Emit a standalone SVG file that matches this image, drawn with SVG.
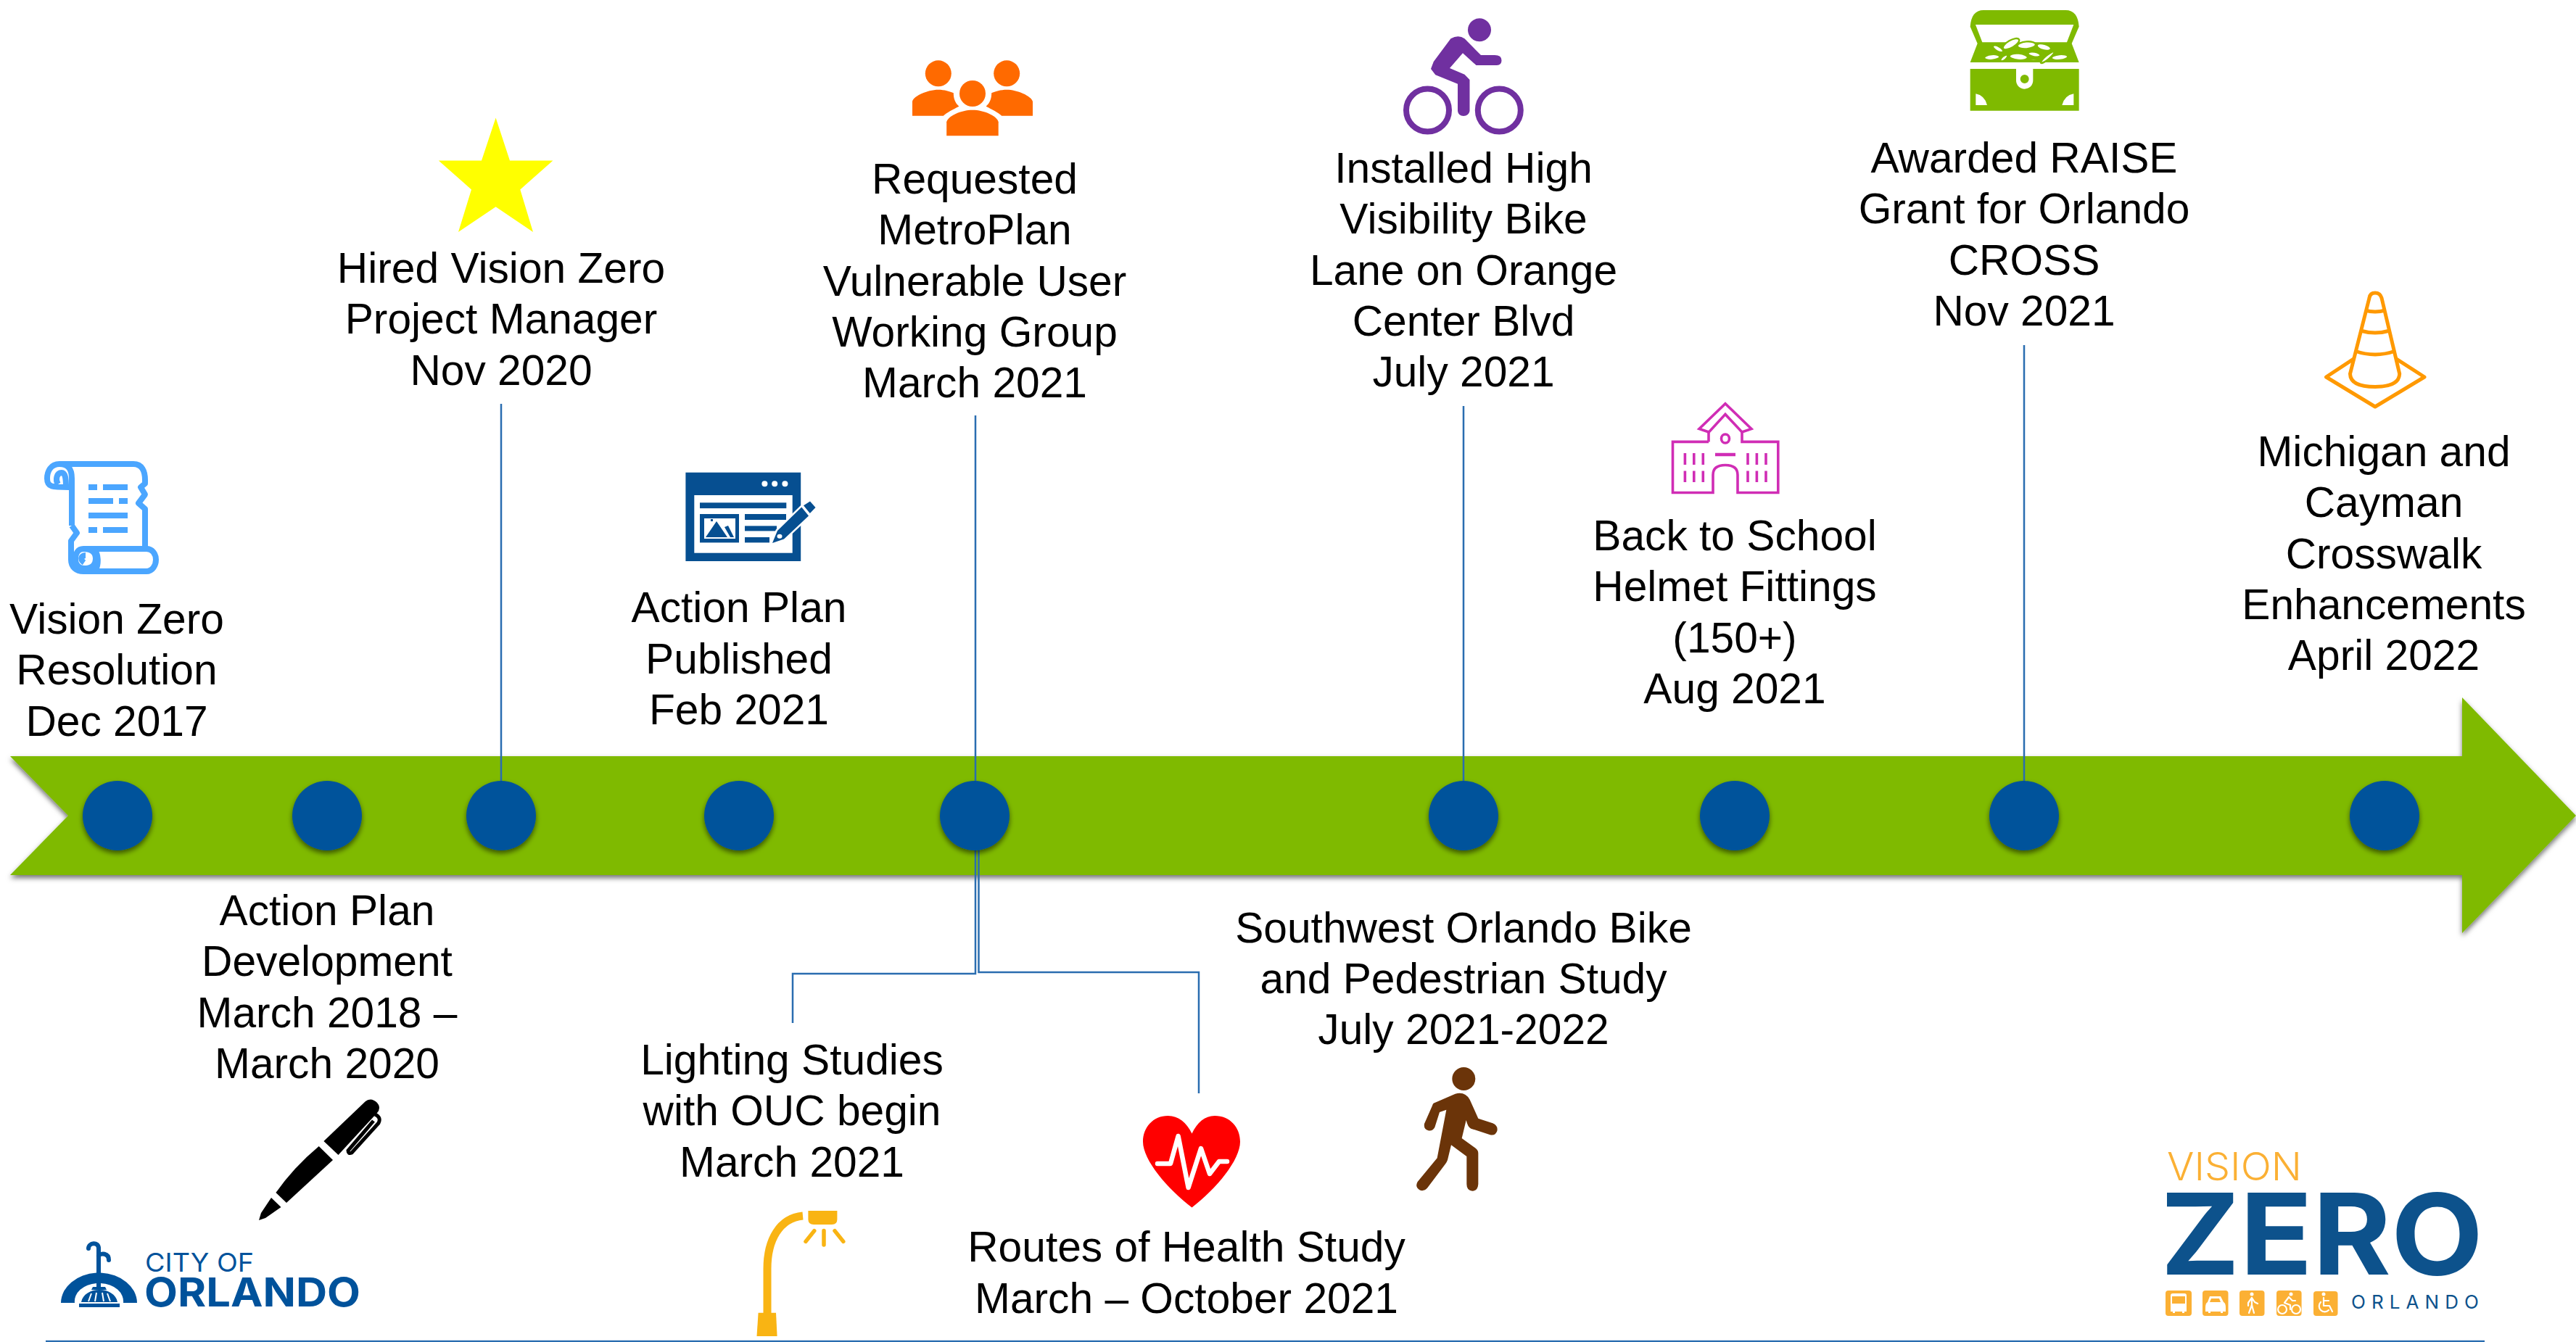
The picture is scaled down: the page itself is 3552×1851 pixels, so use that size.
<svg xmlns="http://www.w3.org/2000/svg" width="3552" height="1851" viewBox="0 0 3552 1851">
<defs>
<style>
.t{font-family:"Liberation Sans",Arial,sans-serif;font-size:58.7px;fill:#000;text-anchor:middle}
.c{fill:none;stroke:#2a6db0;stroke-width:2.5}
.dot{fill:#00529b;filter:url(#ds)}
.wg{fill:#fff;stroke:none}
.ws{fill:none;stroke:#fff;stroke-width:2.2;stroke-linecap:round;stroke-linejoin:round}
.oz{fill:#fbb034}
.lg{font-family:Inter,"Liberation Sans",sans-serif}
.sc{fill:none;stroke:#d02db5;stroke-width:3.6}
.co{fill:none;stroke:#ff9900;stroke-width:5;stroke-linejoin:round}
.sr{fill:none;stroke:#4ba6ff;stroke-width:8;stroke-linejoin:round}
.coin{fill:#fff;stroke:#7fba00;stroke-width:7}
</style>
<filter id="ds" x="-10%" y="-20%" width="120%" height="140%"><feDropShadow dx="0" dy="4" stdDeviation="3.5" flood-color="#000" flood-opacity=".55"/></filter>
</defs>
<rect width="3552" height="1851" fill="#fff"/>
<path id="timeline-arrow" d="M14 1043H3395V962L3552 1125L3395 1287V1207H14L94 1125Z" fill="#7fba00" filter="url(#ds)"/>
<g id="connectors">
<path class="c" d="M691 557V1090"/>
<path class="c" d="M1345 573V1090"/>
<path class="c" d="M2018 560V1090"/>
<path class="c" d="M2791 476V1090"/>
<path class="c" d="M1345 1160V1343H1093V1411"/>
<path class="c" d="M1349.500 1160V1341H1653V1508"/>
</g>
<g id="dots">
<circle class="dot" cx="162" cy="1125" r="48"/>
<circle class="dot" cx="451" cy="1125" r="48"/>
<circle class="dot" cx="691" cy="1125" r="48"/>
<circle class="dot" cx="1019" cy="1125" r="48"/>
<circle class="dot" cx="1344" cy="1125" r="48"/>
<circle class="dot" cx="2018" cy="1125" r="48"/>
<circle class="dot" cx="2392" cy="1125" r="48"/>
<circle class="dot" cx="2791" cy="1125" r="48"/>
<circle class="dot" cx="3288" cy="1125" r="48"/>
</g>

<g id="n-resolution">
<path class="sr" d="M82 640H184C196 640 200 650 200 662V667L194 672L200 682L191 694L200 702V755"/>
<path class="sr" d="M99 725V660C99 648 95 640 82 640C70 640 65 650 65 660C65 672 72 672 95 672M80 668C76 662 78 652 85 652C90 652 91 660 91 672"/>
<path class="sr" d="M99 725L106 735L98 746V772C98 782 105 788 115 788H202C210 788 215 780 215 772C215 764 210 757 202 757H115"/>
<path class="sr" d="M115 757C107 757 104 764 104 772C104 780 110 784 116 784C126 784 132 780 132 770C132 762 126 757 115 757M132 786C136 778 136 765 130 757M116 776C110 772 112 766 118 766"/>
<g fill="#4ba6ff"><rect x="122" y="668" width="12" height="8"/><rect x="142" y="668" width="34" height="8"/><rect x="122" y="687" width="34" height="8"/><rect x="164" y="687" width="12" height="8"/><rect x="122" y="707" width="54" height="8"/><rect x="122" y="727" width="12" height="8"/><rect x="142" y="727" width="34" height="8"/></g>
<text class="t"><tspan x="161" y="874">Vision Zero</tspan><tspan x="161" y="944">Resolution</tspan><tspan x="161" y="1015">Dec 2017</tspan></text>
</g>

<g id="n-action-dev">
<text class="t"><tspan x="451" y="1276">Action Plan</tspan><tspan x="451" y="1346">Development</tspan><tspan x="451" y="1417">March 2018 –</tspan><tspan x="451" y="1487">March 2020</tspan></text>
<path d="M446.400 1574L504 1519Q512 1513 520 1521Q526 1528 520 1535L466.500 1593Z" fill="#000"/>
<path d="M517 1537Q526 1541 522 1549L485 1590Q480 1592 480 1587L515 1546" fill="none" stroke="#000" stroke-width="5"/>
<path d="M439.700 1581L459 1600L395 1659L380.400 1645Q405 1610 439.700 1581Z" fill="#000"/>
<path d="M374 1652L387.500 1665L366 1680L357 1683L360 1673Z" fill="#000"/>
</g>

<g id="n-hired">
<polygon fill="#ffff00" points="683.600,162.500 703,221.500 762.400,221.500 717.300,261.400 735,320 683.600,285.300 632,320 650,261.400 604.800,221.500 664,221.500"/>
<text class="t"><tspan x="691" y="390">Hired Vision Zero</tspan><tspan x="691" y="460">Project Manager</tspan><tspan x="691" y="531">Nov 2020</tspan></text>
</g>

<g id="n-published">
<rect x="945.400" y="651.700" width="158.800" height="122.300" fill="#064f91"/>
<rect x="957.300" y="683" width="135.400" height="79.700" fill="#fff"/>
<g fill="#fff"><circle cx="1054.400" cy="667.300" r="4"/><circle cx="1068.200" cy="667.300" r="4"/><circle cx="1082.400" cy="667.300" r="4"/></g>
<g fill="#064f91"><rect x="965" y="693.300" width="119.300" height="7.800"/><rect x="965" y="709" width="54" height="39.400"/><rect x="1027" y="709" width="57" height="8"/><rect x="1027" y="725.400" width="44" height="7"/><rect x="1027" y="741" width="34" height="7.400"/></g>
<rect x="971" y="715" width="43" height="28" fill="#fff"/>
<path d="M973 741L988 719L1003 741ZM999 727L1004 725L1012 741H1007Z M980 716h3v3h-3z" fill="#064f91"/>
<path d="M1065 749L1072 732L1105.300 699.400L1115 711.600L1081 743.600Z" fill="#064f91" stroke="#fff" stroke-width="5" paint-order="stroke"/>
<path d="M1108 697.200L1117 691.600L1124.500 700L1116.800 708Z" fill="#064f91"/>
<ellipse cx="1075" cy="739.700" rx="3.500" ry="3" fill="#fff"/>
<text class="t"><tspan x="1019" y="858">Action Plan</tspan><tspan x="1019" y="929">Published</tspan><tspan x="1019" y="999">Feb 2021</tspan></text>
</g>

<g id="n-metroplan">
<g fill="#ff6a00">
<ellipse cx="1293.800" cy="101.300" rx="18" ry="18"/><ellipse cx="1388.200" cy="101.300" rx="18" ry="18"/><ellipse cx="1341" cy="129" rx="18" ry="18"/>
<path d="M1258 159.700V140C1260 132 1280 123.700 1293.800 123.700C1302 123.700 1310 126 1314.800 128.300C1314.800 136 1317 142 1322.400 146.700C1314 151 1306 155 1300.800 159.700Z"/>
<path d="M1424 159.700V140C1422 132 1402 123.700 1388.200 123.700C1380 123.700 1372 126 1367.200 128.300C1367.200 136 1365 142 1359.600 146.700C1368 151 1376 155 1381.200 159.700Z"/>
<path d="M1305.200 187.300V168.300C1307 160 1325 151.700 1341 151.700C1357 151.700 1375 160 1376.700 168.300V187.300Z"/>
</g>
<text class="t"><tspan x="1344" y="267">Requested</tspan><tspan x="1344" y="337">MetroPlan</tspan><tspan x="1344" y="408">Vulnerable User</tspan><tspan x="1344" y="478">Working Group</tspan><tspan x="1344" y="548">March 2021</tspan></text>
</g>

<g id="n-bike">
<g fill="#7030a0"><circle cx="2040" cy="41.300" r="16"/>
<path d="M2000.400 53.300L1976.800 85L1973 95L1979.300 103.300L2010 115.700V153.300Q2011 160 2018 160Q2025 160 2026.500 153.300V110L2019.500 102.700L1999 94L2017 73.300L2035.500 90H2064Q2070.500 90 2070.500 83.300Q2070.500 76 2061 76H2042L2019.500 53.300Q2011 47 2000.400 53.300Z"/></g>
<g fill="none" stroke="#7030a0" stroke-width="8"><circle cx="1968.500" cy="152" r="29.500"/><circle cx="2067.300" cy="152" r="29.500"/></g>
<text class="t"><tspan x="2018" y="252">Installed High</tspan><tspan x="2018" y="322">Visibility Bike</tspan><tspan x="2018" y="393">Lane on Orange</tspan><tspan x="2018" y="463">Center Blvd</tspan><tspan x="2018" y="533">July 2021</tspan></text>
</g>

<g id="n-school">
<path class="sc" d="M2356 609.400H2306.500V679.500H2362V655Q2362 641.500 2379 641.500Q2396 641.500 2396 655V679.500H2451.800V609.400H2402V596M2356 609.400V596"/>
<path class="sc" d="M2356.400 596L2343 591.500L2379 556.700L2415 591.500L2402 596L2379 571.400Z"/>
<ellipse class="sc" cx="2379" cy="605" rx="5.500" ry="6"/>
<path d="M2365 627H2393" stroke="#d02db5" stroke-width="4.500" fill="none"/>
<path class="sc" stroke-width="2.600" d="M2323.400 625V641M2335.800 625V641M2348.300 625V641M2323.400 649.500V665M2335.800 649.500V665M2348.300 649.500V665M2410 625V641M2422.400 625V641M2435 625V641M2410 649.500V665M2422.400 649.500V665M2435 649.500V665"/>
<text class="t"><tspan x="2392" y="759">Back to School</tspan><tspan x="2392" y="829">Helmet Fittings</tspan><tspan x="2392" y="900">(150+)</tspan><tspan x="2392" y="970">Aug 2021</tspan></text>
</g>

<g id="n-raise">
<g transform="translate(2700 5) scale(.33333)">
<path fill="#7fba00" d="M50 95Q55 27 105 27H445Q495 27 500 95L470 165L500 243H50L80 165Z"/>
<path fill="#fff" d="M72 87H478L450 160H100Z"/>
<ellipse class="coin" cx="219" cy="167" rx="38" ry="15" transform="rotate(-30 219 167)"/>
<ellipse class="coin" cx="355" cy="180" rx="30" ry="13" transform="rotate(15 355 180)"/>
<ellipse class="coin" cx="283" cy="172" rx="38" ry="15" transform="rotate(-5 283 172)"/>
<ellipse class="coin" cx="165" cy="187" rx="24" ry="10" transform="rotate(30 165 187)"/>
<ellipse class="coin" cx="315" cy="210" rx="26" ry="10" transform="rotate(10 315 210)"/>
<ellipse class="coin" cx="140" cy="222" rx="32" ry="12" transform="rotate(-5 140 222)"/>
<ellipse class="coin" cx="420" cy="222" rx="34" ry="12" transform="rotate(-5 420 222)"/>
<ellipse class="coin" cx="370" cy="222" rx="36" ry="8" transform="rotate(-40 370 222)"/>
<ellipse class="coin" cx="190" cy="225" rx="18" ry="8" transform="rotate(-40 190 225)"/>
<ellipse class="coin" cx="250" cy="220" rx="38" ry="14" transform="rotate(5 250 220)"/>
<ellipse class="coin" cx="312" cy="232" rx="20" ry="4"/>
<path fill="#7fba00" d="M50 270H500V443H50Z"/>
<path fill="#fff" d="M240 270H310V318A35 35 0 0 1 240 318Z"/>
<circle cx="275" cy="312" r="18" fill="#7fba00"/>
<path fill="#fff" d="M73 373Q110 380 120 420H73ZM478 373Q440 380 430 420H478Z"/>
</g>
<text class="t"><tspan x="2791" y="238">Awarded RAISE</tspan><tspan x="2791" y="308">Grant for Orlando</tspan><tspan x="2791" y="379">CROSS</tspan><tspan x="2791" y="449">Nov 2021</tspan></text>
</g>

<g id="n-michigan">
<path class="co" d="M3267 411Q3268 404 3275 404Q3282 404 3284 411L3308.700 515.600Q3308 533.500 3275 533.500Q3241 533.500 3240.500 515.600Z"/>
<path class="co" d="M3261 428Q3275 432 3289 428M3254.500 456Q3275 462 3295.500 456M3247 484Q3275 494 3303 484"/>
<path class="co" d="M3246 494.600L3207.500 520L3275 561L3343 520L3303.600 494.600"/>
<text class="t"><tspan x="3287" y="643">Michigan and</tspan><tspan x="3287" y="713">Cayman</tspan><tspan x="3287" y="784">Crosswalk</tspan><tspan x="3287" y="854">Enhancements</tspan><tspan x="3287" y="924">April 2022</tspan></text>
</g>

<g id="n-lighting">
<text class="t"><tspan x="1092" y="1482">Lighting Studies</tspan><tspan x="1092" y="1552">with OUC begin</tspan><tspan x="1092" y="1623">March 2021</tspan></text>
<path d="M1058 1812V1750C1058 1710 1075 1680 1107 1677" fill="none" stroke="#f9b413" stroke-width="11"/>
<path d="M1045.600 1810.700H1070L1071.600 1843H1043.500Z" fill="#f9b413"/>
<path d="M1114.400 1670H1154.400V1682Q1154.400 1689 1147 1689H1122Q1114.400 1689 1114.400 1682Z" fill="#f9b413"/>
<path d="M1122.800 1697.600L1111 1712.400M1136 1697.600V1717M1151 1697.600L1162.800 1712.400" stroke="#f9b413" stroke-width="5.500" stroke-linecap="round" fill="none"/>
</g>

<g id="n-routes">
<path fill="#ff0000" d="M1643.500 1563.500C1636 1548 1625 1539 1610.500 1539C1590 1539 1576 1555 1576 1574.700C1576 1600 1610 1640 1643.500 1665.400C1677 1640 1710 1600 1710 1574.700C1710 1555 1696 1539 1675 1539C1661 1539 1651 1548 1643.500 1563.500Z"/>
<path fill="none" stroke="#fff" stroke-width="6.500" stroke-linejoin="round" stroke-linecap="round" d="M1596 1605H1614L1624.600 1567L1638.600 1638L1656 1584L1668 1619L1681 1602H1692"/>
<text class="t"><tspan x="1636" y="1740">Routes of Health Study</tspan><tspan x="1636" y="1811">March – October 2021</tspan></text>
</g>

<g id="n-southwest">
<text class="t"><tspan x="2018" y="1300">Southwest Orlando Bike</tspan><tspan x="2018" y="1370">and Pedestrian Study</tspan><tspan x="2018" y="1440">July 2021-2022</tspan></text>
<g transform="translate(1950 1460) scale(.33333)" fill="#6b3409">
<circle cx="205" cy="84" r="48"/>
<path d="M80 185L170 146Q210 135 230 170L265 248L325 268Q348 278 343 300Q335 322 312 315L235 290Q222 285 215 255L197 330L255 372Q265 380 265 392V520Q263 548 240 548Q217 546 217 520V405L153 358L138 420Q135 428 130 435L55 535Q40 552 22 544Q2 530 14 510L95 412L133 212L105 222L85 285Q75 302 58 298Q38 292 42 270L75 195Q77 188 80 185Z"/>
</g>
</g>

<g id="logo-city">
<path d="M84 1797A53 42 0 0 1 133 1755.500V1770A33 25 0 0 0 103 1797ZM189 1797A53 42 0 0 0 139 1755.500V1770A33 25 0 0 1 170 1797Z" fill="#00529b"/>
<path d="M136 1775V1722C136 1712 122 1714 122 1722M136 1732C139 1728 150 1728 150 1738" fill="none" stroke="#00529b" stroke-width="6" stroke-linecap="round"/>
<path d="M128 1775H145L147 1779H126Z M112 1796C114 1785 125 1779 137 1779C149 1779 160 1785 162 1796Z M109 1798H165V1803H109Z" fill="#00529b"/>
<path d="M122 1795L126 1784M131 1795L133 1783M143 1795L141 1783M152 1795L148 1784" stroke="#fff" stroke-width="2" fill="none"/>
<text class="lg" x="200" y="1754" font-size="36" fill="#00529b" textLength="150" lengthAdjust="spacingAndGlyphs">CITY OF</text>
<text class="lg" x="199" y="1802" font-size="55" font-weight="700" fill="#00529b" textLength="298" lengthAdjust="spacingAndGlyphs">ORLANDO</text>
</g>

<g id="logo-vision-zero">
<text class="lg" x="2988" y="1628" font-size="53" font-weight="300" fill="#fbb034" textLength="186" lengthAdjust="spacingAndGlyphs">VISION</text>
<text class="lg" x="2979" y="1758" font-size="155" font-weight="700" fill="#0d528c" textLength="445" lengthAdjust="spacingAndGlyphs">ZERO</text>
<rect class="oz" x="2986" y="1780" width="36" height="35" rx="4"/>
<rect class="oz" x="3037" y="1780" width="35.500" height="35" rx="4"/>
<rect class="oz" x="3088" y="1780" width="34.500" height="35" rx="4"/>
<rect class="oz" x="3139" y="1780" width="34.600" height="35" rx="4"/>
<rect class="oz" x="3190" y="1781" width="33.500" height="34" rx="4"/>
<path class="wg" d="M2993 1787Q2993 1784 2996 1784H3012Q3015 1784 3015 1787V1809H3012V1811H3009V1809H2999V1811H2996V1809H2993Z"/>
<rect class="oz" x="2995" y="1788" width="18" height="10"/>
<path class="wg" d="M3041 1804Q3041 1797 3044 1796L3047 1788H3062L3066 1796Q3069 1797 3069 1804V1809H3065V1811H3062V1809H3048V1811H3045V1809H3041Z"/>
<path class="oz" d="M3049 1791H3060L3062 1796H3047Z"/>
<circle class="wg" cx="3105" cy="1785" r="2.500"/>
<path class="ws" d="M3105 1790L3100 1797V1801M3105 1790L3109 1796L3113 1798M3105 1790V1800L3101 1811M3105 1800L3108 1811"/>
<circle class="wg" cx="3159" cy="1785" r="2.500"/>
<path class="ws" d="M3156 1789L3150 1797L3158 1800V1806M3156 1789L3161 1794H3165"/>
<circle class="ws" cx="3147" cy="1806" r="6"/><circle class="ws" cx="3166" cy="1806" r="6"/>
<circle class="wg" cx="3204" cy="1785" r="2.500"/>
<path class="ws" d="M3204 1790V1801H3212L3216 1809M3204 1794H3211M3200 1796A7.500 7.500 0 1 0 3211 1807"/>
<text class="lg" x="3242" y="1805" font-size="26" font-weight="400" fill="#0d528c" textLength="176" lengthAdjust="spacing">ORLANDO</text>
</g>
<path id="bottom-rule" d="M63 1850H3426" stroke="#2a6db0" stroke-width="2.500" fill="none"/>
</svg>
